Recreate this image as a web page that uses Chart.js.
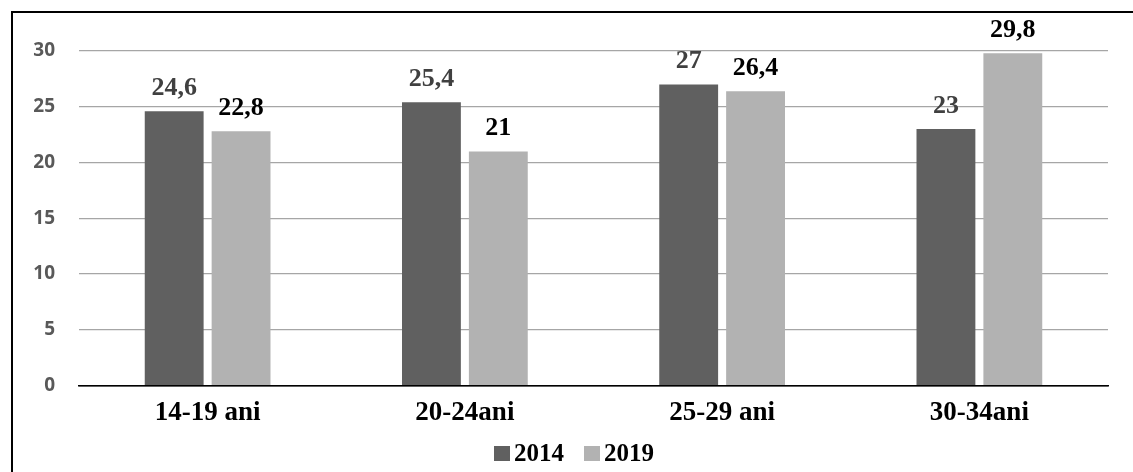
<!DOCTYPE html>
<html>
<head>
<meta charset="utf-8">
<script src="https://cdn.jsdelivr.net/npm/chart.js@4"></script>
<style>
  html, body { margin: 0; padding: 0; background: #fff; }
  #wrap { position: relative; width: 1133px; height: 472px; overflow: hidden; }
  #frame { position: absolute; left: 11px; top: 11px; width: 1140px; height: 470px;
           border-left: 2px solid #000; border-top: 2px solid #000; pointer-events: none; }
  canvas { position: absolute; left: 0; top: 0; }
  #legend { position: absolute; left: 494px; top: 437px; height: 32px; display: flex; align-items: center;
            font: bold 25px "Liberation Serif", "Times New Roman", serif; color: #000; }
  #legend span.box { display: inline-block; width: 16px; height: 15px; margin-right: 4px; }
  #legend span.item { display: flex; align-items: center; margin-right: 20px; }
</style>
</head>
<body>
<div id="wrap">
  <canvas id="ageChart" width="1133" height="472"></canvas>
  <div id="frame"></div>
  <div id="legend"></div>
</div>
<script>
const categories = ['14-19 ani', '20-24ani', '25-29 ani', '30-34ani'];
const seriesNames = ['2014', '2019'];
const values2014 = [24.6, 25.4, 27, 23];
const values2019 = [22.8, 21, 26.4, 29.8];
const yTicks = [0, 5, 10, 15, 20, 25, 30];
const colors = ['#606060', '#b2b2b2'];

// value labels above the bars, with a comma decimal
const barLabels = {
  id: 'barLabels',
  afterDatasetsDraw(chart) {
    const ctx = chart.ctx;
    ctx.save();
    ctx.textAlign = 'center';
    ctx.textBaseline = 'alphabetic';
    chart.data.datasets.forEach((ds, i) => {
      const meta = chart.getDatasetMeta(i);
      ctx.fillStyle = i === 0 ? '#404040' : '#000';
      ctx.font = 'bold 26px "Liberation Serif", "Times New Roman", serif';
      meta.data.forEach((bar, j) => {
        const txt = String(ds.data[j]).replace('.', ',');
        ctx.fillText(txt, bar.x, bar.y - 16);
      });
    });
    ctx.restore();
  }
};

const chart = new Chart('ageChart', {
  type: 'bar',
  data: {
    labels: categories,
    datasets: [
      { label: seriesNames[0], data: values2014, backgroundColor: colors[0],
        categoryPercentage: 0.52, barPercentage: 0.88 },
      { label: seriesNames[1], data: values2019, backgroundColor: colors[1],
        categoryPercentage: 0.52, barPercentage: 0.88 }
    ]
  },
  options: {
    responsive: false,
    animation: false,
    layout: { padding: { top: 51, right: 25, bottom: 40, left: 0 } },
    plugins: {
      legend: { display: false },
      tooltip: { enabled: false }
    },
    scales: {
      x: {
        grid: { display: false },
        border: { display: true, color: '#000', width: 1.5 },
        ticks: {
          color: '#000', padding: 3,
          font: { family: '"Liberation Serif", "Times New Roman", serif', size: 27, weight: 'bold' }
        }
      },
      y: {
        min: 0, max: 30,
        afterBuildTicks(axis) { axis.ticks = yTicks.map(v => ({ value: v })); },
        afterFit(axis) { axis.width = 79; },
        grid: { color: ctx => ctx.tick && ctx.tick.value === 0 ? '#000' : '#a6a6a6', lineWidth: 1.2, drawTicks: false },
        border: { display: false },
        ticks: {
          color: '#595959', padding: 24,
          font: { family: '"Open Sans", "Liberation Sans", sans-serif', size: 19, weight: 'bold' }
        }
      }
    }
  },
  plugins: [barLabels]
});

// legend below the axis
const legend = document.getElementById('legend');
chart.data.datasets.forEach(ds => {
  const item = document.createElement('span');
  item.className = 'item';
  const box = document.createElement('span');
  box.className = 'box';
  box.style.background = ds.backgroundColor;
  item.appendChild(box);
  item.appendChild(document.createTextNode(ds.label));
  legend.appendChild(item);
});
</script>
</body>
</html>
